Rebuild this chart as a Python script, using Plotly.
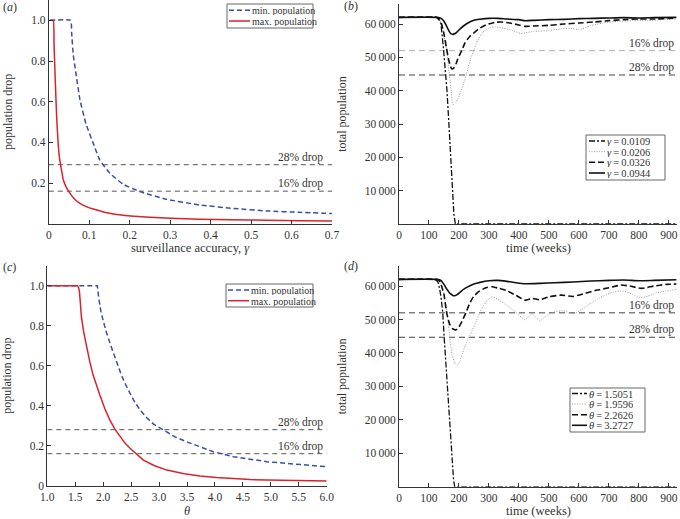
import plotly.graph_objects as go

W, H = 680, 519
FONT = "Liberation Serif"
TXT = "#333333"

# ---------------- (a) population drop vs surveillance accuracy ----------------
a_gamma_min = [0.003, 0.054, 0.0565, 0.0605, 0.067, 0.077, 0.092, 0.11, 0.126, 0.151,
               0.184, 0.225, 0.291, 0.373, 0.456, 0.538, 0.62, 0.7]
a_drop_min = [1.0, 1.0, 0.936, 0.83, 0.74, 0.61, 0.49, 0.395, 0.313, 0.248,
              0.194, 0.158, 0.12, 0.092, 0.075, 0.063, 0.056, 0.05]
a_gamma_max = [0.003, 0.011, 0.013, 0.015, 0.017, 0.0195, 0.023, 0.026, 0.030, 0.036,
               0.043, 0.052, 0.064, 0.077, 0.094, 0.11, 0.135, 0.168, 0.21, 0.25,
               0.30, 0.373, 0.45, 0.538, 0.62, 0.7]
a_drop_max = [1.0, 1.0, 0.88, 0.76, 0.65, 0.52, 0.40, 0.33, 0.28, 0.215,
              0.18, 0.15, 0.12, 0.10, 0.083, 0.072, 0.058, 0.045, 0.037, 0.032,
              0.027, 0.022, 0.019, 0.017, 0.015, 0.013]
a_ref_x = [0, 0.7]
a_ref_28 = 0.29
a_ref_16 = 0.16

# ---------------- (c) population drop vs theta ----------------
c_theta_min = [1.0, 1.895, 1.92, 1.96, 2.0, 2.06, 2.15, 2.24, 2.33, 2.42, 2.54, 2.66, 2.78,
               2.90, 3.08, 3.28, 3.49, 3.73, 3.97, 4.33, 4.63, 4.93, 5.22, 5.52, 6.0]
c_drop_min = [1.0, 1.0, 0.94, 0.87, 0.825, 0.765, 0.69, 0.615, 0.55, 0.495, 0.43, 0.378, 0.34,
              0.308, 0.277, 0.245, 0.22, 0.193, 0.17, 0.145, 0.131, 0.12, 0.113, 0.107, 0.095]
c_theta_max = [1.0, 1.54, 1.56, 1.575, 1.59, 1.61, 1.65, 1.70, 1.76, 1.82, 1.88, 1.94, 2.03,
               2.12, 2.21, 2.30, 2.39, 2.48, 2.6, 2.72, 2.92, 3.14, 3.45, 3.73, 4.03, 4.33,
               4.63, 4.93, 5.5, 6.0]
c_drop_max = [1.0, 1.0, 0.99, 0.97, 0.92, 0.845, 0.77, 0.695, 0.62, 0.553, 0.5, 0.453, 0.385,
              0.328, 0.283, 0.245, 0.213, 0.187, 0.155, 0.128, 0.1, 0.078, 0.06, 0.048, 0.041,
              0.035, 0.031, 0.028, 0.025, 0.023]
c_ref_x = [1.0, 6.0]
c_ref_28 = 0.28
c_ref_16 = 0.16

# ---------------- (b) total population vs time, gamma values ----------------
b_labels = ["0.0109", "0.0206", "0.0326", "0.0944"]
b_t1 = [0, 125, 135, 140, 148, 155, 160, 167, 173, 178, 183, 188, 925]
b_p1 = [62000, 62000, 61000, 60000, 53000, 46000, 40000, 29000, 19000, 10000, 3000, 0, 0]
b_t2 = [0, 125, 135, 145, 152, 159, 168, 175, 181, 188, 196, 205, 215, 225, 240, 250, 262,
        280, 300, 320, 350, 380, 405, 420, 450, 500, 540, 570, 600, 640, 680, 730, 780,
        830, 880, 925]
b_p2 = [62000, 62000, 61300, 59000, 55500, 52000, 44700, 39000, 35800, 36300, 37500, 39500,
        42000, 45000, 49700, 52300, 55000, 57600, 58800, 59200, 58700, 58000, 57200, 57300,
        57800, 58000, 58500, 58700, 58300, 59500, 60300, 60800, 61000, 61000, 61300, 61500]
b_t3 = [0, 125, 135, 142, 150, 158, 165, 172, 177, 183, 190, 198, 209, 220, 235, 248, 265,
        292, 320, 340, 370, 400, 420, 450, 500, 550, 600, 650, 700, 750, 800, 850, 925]
b_p3 = [62000, 62000, 61500, 60000, 57000, 53000, 49500, 47200, 46500, 46800, 48000, 50000,
        52000, 54300, 56200, 57200, 58500, 59800, 60500, 60600, 60300, 59700, 59300, 59400,
        59600, 60000, 60300, 60600, 61000, 61300, 61500, 61500, 61800]
b_t4 = [0, 125, 135, 142, 150, 158, 166, 173, 180, 190, 200, 215, 230, 250, 270, 300, 330,
        360, 400, 420, 450, 500, 550, 600, 650, 700, 750, 800, 850, 925]
b_p4 = [62000, 62000, 61900, 61600, 60800, 59500, 58000, 57100, 56900, 57300, 58200, 59400,
        60300, 61100, 61400, 61700, 61700, 61500, 61300, 61000, 61100, 61300, 61400, 61600,
        61700, 61800, 61900, 61800, 61900, 62000]

# ---------------- (d) total population vs time, theta values ----------------
d_labels = ["1.5051", "1.9596", "2.2626", "3.2727"]
d_t1 = [0, 120, 130, 136, 141, 146, 150, 157, 164, 171, 177, 182, 186, 925]
d_p1 = [62000, 62000, 61200, 59000, 56000, 52000, 45500, 36000, 26500, 17000, 8500, 2000, 0, 0]
d_t2 = [0, 125, 135, 145, 153, 161, 169, 177, 186, 194, 203, 212, 222, 237, 255, 270, 288,
        309, 330, 360, 390, 420, 442, 470, 490, 514, 548, 581, 610, 637, 670, 714, 748,
        780, 803, 830, 859, 890, 925]
d_p2 = [62000, 62000, 61200, 59000, 56000, 52000, 44700, 39500, 37000, 36300, 37500, 40000,
        42500, 45300, 49000, 52300, 55000, 56800, 56000, 54200, 52200, 49900, 51700, 49700,
        51000, 52200, 52600, 51700, 53000, 54700, 56500, 58200, 58500, 57500, 56500, 57000,
        58000, 58500, 59000]
d_t3 = [0, 125, 135, 142, 150, 159, 168, 178, 190, 200, 210, 223, 235, 248, 265, 290, 310,
        330, 360, 390, 420, 445, 470, 500, 540, 580, 620, 660, 700, 740, 770, 810, 850,
        890, 925]
d_p3 = [62000, 62000, 61500, 60000, 57500, 52000, 48800, 47300, 46900, 47800, 49500, 52000,
        54700, 56800, 58300, 59500, 59800, 59400, 58600, 57200, 55800, 56300, 55900, 56800,
        57300, 56900, 57800, 58800, 59500, 60300, 60000, 59300, 60000, 60500, 60600]
d_t4 = [0, 125, 135, 142, 150, 160, 170, 180, 186, 195, 205, 220, 235, 250, 270, 300, 330,
        360, 390, 420, 470, 520, 580, 640, 700, 750, 800, 850, 925]
d_p4 = [62000, 62000, 61900, 61500, 60500, 59000, 57800, 57200, 57100, 57500, 58300, 59300,
        60000, 60600, 61100, 61600, 61700, 61400, 61000, 60700, 60800, 61000, 61200, 61500,
        61700, 61800, 61600, 61700, 61900]

t_ref_x = [0, 925]
pop_ref_16 = 52000
pop_ref_28 = 44700

pop_ticks = [10000, 20000, 30000, 40000, 50000, 60000]
pop_ticktext = ["10\u2009000", "20\u2009000", "30\u2009000", "40\u2009000", "50\u2009000", "60\u2009000"]
t_ticks = [0, 100, 200, 300, 400, 500, 600, 700, 800, 900]

BLUE = "#3a4ea6"
RED = "#d8232a"
styles = [
    dict(color="#111111", width=1.3, dash="6px,2px,2px,2px"),
    dict(color="#9a9a9a", width=1.0, dash="1px,1.5px"),
    dict(color="#111111", width=1.6, dash="6px,3px"),
    dict(color="#111111", width=1.6, dash="solid"),
]


def px(x):
    return x / W


def py(y):
    return 1 - y / H


fig = go.Figure()

REF_DASH = dict(color="#555555", width=1, dash="5px,4px")

# ---- (a)
fig.add_trace(go.Scatter(x=a_ref_x, y=[a_ref_28] * 2, mode="lines", xaxis="x", yaxis="y",
                         line=REF_DASH, showlegend=False))
fig.add_trace(go.Scatter(x=a_ref_x, y=[a_ref_16] * 2, mode="lines", xaxis="x", yaxis="y",
                         line=REF_DASH, showlegend=False))
fig.add_trace(go.Scatter(x=a_gamma_min, y=a_drop_min, mode="lines", xaxis="x", yaxis="y",
                         line=dict(color=BLUE, width=1.5, dash="5px,3px", shape="spline", smoothing=0.4),
                         name="min. population", showlegend=False))
fig.add_trace(go.Scatter(x=a_gamma_max, y=a_drop_max, mode="lines", xaxis="x", yaxis="y",
                         line=dict(color=RED, width=1.5, shape="spline", smoothing=0.4),
                         name="max. population", showlegend=False))

# ---- (c)
fig.add_trace(go.Scatter(x=c_ref_x, y=[c_ref_28] * 2, mode="lines", xaxis="x3", yaxis="y3",
                         line=REF_DASH, showlegend=False))
fig.add_trace(go.Scatter(x=c_ref_x, y=[c_ref_16] * 2, mode="lines", xaxis="x3", yaxis="y3",
                         line=REF_DASH, showlegend=False))
fig.add_trace(go.Scatter(x=c_theta_min, y=c_drop_min, mode="lines", xaxis="x3", yaxis="y3",
                         line=dict(color=BLUE, width=1.5, dash="5px,3px"),
                         name="min. population", showlegend=False))
fig.add_trace(go.Scatter(x=c_theta_max, y=c_drop_max, mode="lines", xaxis="x3", yaxis="y3",
                         line=dict(color=RED, width=1.5),
                         name="max. population", showlegend=False))

# ---- (b)
fig.add_trace(go.Scatter(x=t_ref_x, y=[pop_ref_16] * 2, mode="lines", xaxis="x2", yaxis="y2",
                         line=dict(color="#b0b0b0", width=1, dash="6px,4px"), showlegend=False))
fig.add_trace(go.Scatter(x=t_ref_x, y=[pop_ref_28] * 2, mode="lines", xaxis="x2", yaxis="y2",
                         line=dict(color="#444444", width=1, dash="6px,4px"), showlegend=False))


def series_line(i):
    st = dict(styles[i])
    if i != 0:
        st.update(shape="spline", smoothing=0.5)
    return st


for i, ((tt, pp), lab) in enumerate(zip([(b_t1, b_p1), (b_t2, b_p2), (b_t3, b_p3), (b_t4, b_p4)], b_labels)):
    fig.add_trace(go.Scatter(x=tt, y=pp, mode="lines", xaxis="x2", yaxis="y2",
                             line=series_line(i), name="γ=" + lab, showlegend=False))

# ---- (d)
fig.add_trace(go.Scatter(x=t_ref_x, y=[pop_ref_16] * 2, mode="lines", xaxis="x4", yaxis="y4",
                         line=dict(color="#444444", width=1, dash="6px,4px"), showlegend=False))
fig.add_trace(go.Scatter(x=t_ref_x, y=[pop_ref_28] * 2, mode="lines", xaxis="x4", yaxis="y4",
                         line=dict(color="#444444", width=1, dash="6px,4px"), showlegend=False))
for i, ((tt, pp), lab) in enumerate(zip([(d_t1, d_p1), (d_t2, d_p2), (d_t3, d_p3), (d_t4, d_p4)], d_labels)):
    fig.add_trace(go.Scatter(x=tt, y=pp, mode="lines", xaxis="x4", yaxis="y4",
                             line=series_line(i), name="θ=" + lab, showlegend=False))

axcommon = dict(showline=True, linecolor="#333333", linewidth=1, ticks="inside", ticklen=4,
                tickcolor="#333333", showgrid=False, zeroline=False, automargin=False,
                tickfont=dict(family=FONT, size=11.5, color=TXT),
                title_font=dict(family=FONT, size=12, color=TXT))

fig.update_layout(
    width=W, height=H, margin=dict(l=0, r=0, t=0, b=0),
    paper_bgcolor="white", plot_bgcolor="white", showlegend=False,
    font=dict(family=FONT, size=11, color=TXT),
    xaxis=dict(axcommon, domain=[px(48.8), px(332)], range=[0, 0.7], anchor="y",
               tickvals=[0, 0.1, 0.2, 0.3, 0.4, 0.5, 0.6, 0.7],
               ticktext=["0", "0.1", "0.2", "0.3", "0.4", "0.5", "0.6", "0.7"]),
    yaxis=dict(axcommon, domain=[py(223.7), py(0)], range=[0, 1.1], anchor="x",
               tickvals=[0.2, 0.4, 0.6, 0.8, 1.0], ticktext=["0.2", "0.4", "0.6", "0.8", "1.0"],
               title_text="population drop"),
    xaxis2=dict(axcommon, domain=[px(399), px(677)], range=[0, 927], anchor="y2",
                tickvals=t_ticks),
    yaxis2=dict(axcommon, domain=[py(224), py(4)], range=[0, 66000], anchor="x2",
                tickvals=pop_ticks, ticktext=pop_ticktext, title_text="total population"),
    xaxis3=dict(axcommon, domain=[px(47.3), px(326.7)], range=[1.0, 6.0], anchor="y3",
                tickvals=[1.0, 1.5, 2.0, 2.5, 3.0, 3.5, 4.0, 4.5, 5.0, 5.5, 6.0],
                ticktext=["1.0", "1.5", "2.0", "2.5", "3.0", "3.5", "4.0", "4.5", "5.0", "5.5", "6.0"]),
    yaxis3=dict(axcommon, domain=[py(485.7), py(265.7)], range=[0, 1.1], anchor="x3",
                tickvals=[0, 0.2, 0.4, 0.6, 0.8, 1.0], ticktext=["0", "0.2", "0.4", "0.6", "0.8", "1.0"],
                title_text="population drop"),
    xaxis4=dict(axcommon, domain=[px(399), px(677)], range=[0, 927], anchor="y4",
                tickvals=t_ticks),
    yaxis4=dict(axcommon, domain=[py(486.8), py(266)], range=[0, 66000], anchor="x4",
                tickvals=pop_ticks, ticktext=pop_ticktext, title_text="total population"),
)

ann = []
shapes = []

# x-axis titles (placed as text below each axis)
for txt, x, y in [("surveillance accuracy, <i>γ</i>", 190, 248), ("time (weeks)", 538, 248),
                  ("<i>θ</i>", 187, 511), ("time (weeks)", 538, 511)]:
    ann.append(dict(text=txt, x=px(x), y=py(y), xref="paper", yref="paper", xanchor="center",
                    yanchor="middle", showarrow=False, font=dict(family=FONT, size=12.5, color=TXT)))

# panel labels
for lab, x, y in [("a", 1, 7), ("b", 342, 6), ("c", 1, 267), ("d", 342, 266)]:
    ann.append(dict(text="(<i>%s</i>)" % lab, x=px(x), y=py(y), xref="paper", yref="paper",
                    xanchor="left", yanchor="middle", showarrow=False,
                    font=dict(family=FONT, size=12, color=TXT)))

# reference line labels
for xr, yr, xv, yv, txt, sh in [
    ("x", "y", 0.7, a_ref_28, "28% drop", -7), ("x", "y", 0.7, a_ref_16, "16% drop", -7),
    ("x3", "y3", 6.0, c_ref_28, "28% drop", -2), ("x3", "y3", 6.0, c_ref_16, "16% drop", -2),
    ("x2", "y2", 925, pop_ref_16, "16% drop", 0), ("x2", "y2", 925, pop_ref_28, "28% drop", 0),
    ("x4", "y4", 925, pop_ref_16, "16% drop", 0), ("x4", "y4", 925, pop_ref_28, "28% drop", 0),
]:
    ann.append(dict(text=txt, x=xv, y=yv, xref=xr, yref=yr, xanchor="right", yanchor="bottom",
                    xshift=sh, yshift=-1, showarrow=False, font=dict(family=FONT, size=11.5, color=TXT)))


def legend_box(x0, x1, y0, y1, items, sx0, sx1, tx, size, box_h):
    shapes.append(dict(type="rect", xref="paper", yref="paper", x0=px(x0), x1=px(x1),
                       y0=py(y1), y1=py(y0), line=dict(color="#666666", width=1),
                       fillcolor="white", layer="above"))
    for yy, label, st in items:
        shapes.append(dict(type="line", xref="paper", yref="paper", x0=px(sx0), x1=px(sx1),
                           y0=py(yy), y1=py(yy), line=st, layer="above"))
        ann.append(dict(text=label, x=px(tx), y=py(yy), xref="paper", yref="paper",
                        xanchor="left", yanchor="middle", showarrow=False, borderpad=0,
                        height=box_h, valign="middle",
                        font=dict(family=FONT, size=size, color=TXT)))


min_st = dict(color=BLUE, width=1.5, dash="5px,3px")
max_st = dict(color=RED, width=1.5)
legend_box(227, 313, 4, 28, [(10.3, "min. population", min_st), (21, "max. population", max_st)],
           229, 250, 251, 10, 10)
legend_box(226, 313, 284, 307, [(290, "min. population", min_st), (300.7, "max. population", max_st)],
           228, 249, 250, 10, 10)
legend_box(586, 665, 135, 180,
           [(y, "<i>γ</i>\u2009=\u20090.%s" % l[2:], dict(styles[i]))
            for i, (y, l) in enumerate(zip([141, 151.7, 162.3, 173], b_labels))],
           589, 605, 606, 10.5, 10)
legend_box(570, 645, 388, 432,
           [(y, "<i>θ</i>\u2009=\u2009" + l, dict(styles[i]))
            for i, (y, l) in enumerate(zip([393.5, 404, 414.7, 425.3], d_labels))],
           572, 587, 588, 10.5, 10)

fig.update_layout(annotations=ann, shapes=shapes)
fig.write_html("out.html", config={"displayModeBar": False},
               post_script="document.body.style.margin='0';document.body.style.overflow='hidden';")
